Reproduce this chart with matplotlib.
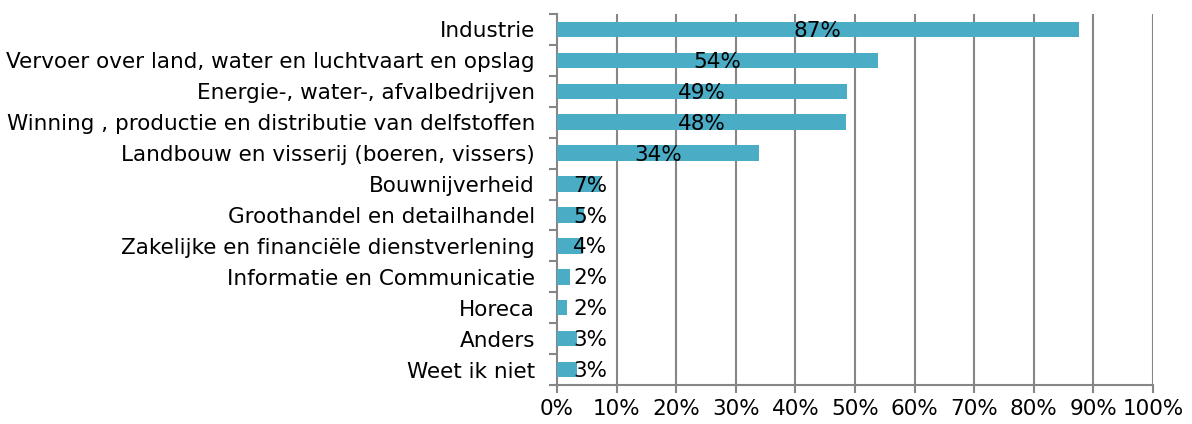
import matplotlib
matplotlib.use("Agg")
import matplotlib.pyplot as plt
import numpy as np

categories = [
    "Industrie",
    "Vervoer over land, water en luchtvaart en opslag",
    "Energie-, water-, afvalbedrijven",
    "Winning , productie en distributie van delfstoffen",
    "Landbouw en visserij (boeren, vissers)",
    "Bouwnijverheid",
    "Groothandel en detailhandel",
    "Zakelijke en financiële dienstverlening",
    "Informatie en Communicatie",
    "Horeca",
    "Anders",
    "Weet ik niet",
]
values = [87.5, 53.9, 48.7, 48.5, 33.9, 7.2, 4.6, 4.4, 2.1, 1.6, 3.3, 3.3]
value_labels = ["87%", "54%", "49%", "48%", "34%", "7%", "5%", "4%", "2%", "2%", "3%", "3%"]
xticks = [0, 10, 20, 30, 40, 50, 60, 70, 80, 90, 100]
xtick_labels = ["0%", "10%", "20%", "30%", "40%", "50%", "60%", "70%", "80%", "90%", "100%"]

bar_color = "#4BACC6"
grid_color = "#868686"
fs = 15.5

fig = plt.figure(figsize=(11.92, 4.24), dpi=100)
ax = fig.add_axes([557/1192, 1 - 385/424, 596/1192, (385 - 14)/424])

y = np.arange(len(categories))
ax.barh(y, values, height=0.5, color=bar_color, zorder=3)

for yi, v, lab in zip(y, values, value_labels):
    if v >= 10:
        ax.text(v / 2, yi + 0.05, lab, ha="center", va="center", fontsize=fs, color="black", zorder=4)
    else:
        ax.text(2.7, yi + 0.05, lab, ha="left", va="center", fontsize=fs, color="black", zorder=4)

ax.set_xlim(0, 100)
ax.set_ylim(len(categories) - 0.5, -0.5)
ax.set_xticks(xticks)
ax.set_xticklabels(xtick_labels, fontsize=fs)
ax.set_yticks(y)
ax.set_yticklabels(categories, fontsize=fs)
ax.set_yticks(np.arange(-0.5, len(categories), 1.0), minor=True)

for xv in xticks[1:]:
    ax.axvline(xv, color=grid_color, lw=1.5, zorder=1)

for s in ["top", "right"]:
    ax.spines[s].set_visible(False)
for s in ["left", "bottom"]:
    ax.spines[s].set_color(grid_color)
    ax.spines[s].set_linewidth(1.5)

ax.tick_params(axis="y", which="major", length=0, pad=15.8)
ax.tick_params(axis="y", which="minor", length=5.5, width=1.5, color=grid_color, direction="out")
ax.tick_params(axis="x", which="major", length=6, width=1.5, color=grid_color, direction="out", pad=4)

fig.savefig("out.png", dpi=100)
